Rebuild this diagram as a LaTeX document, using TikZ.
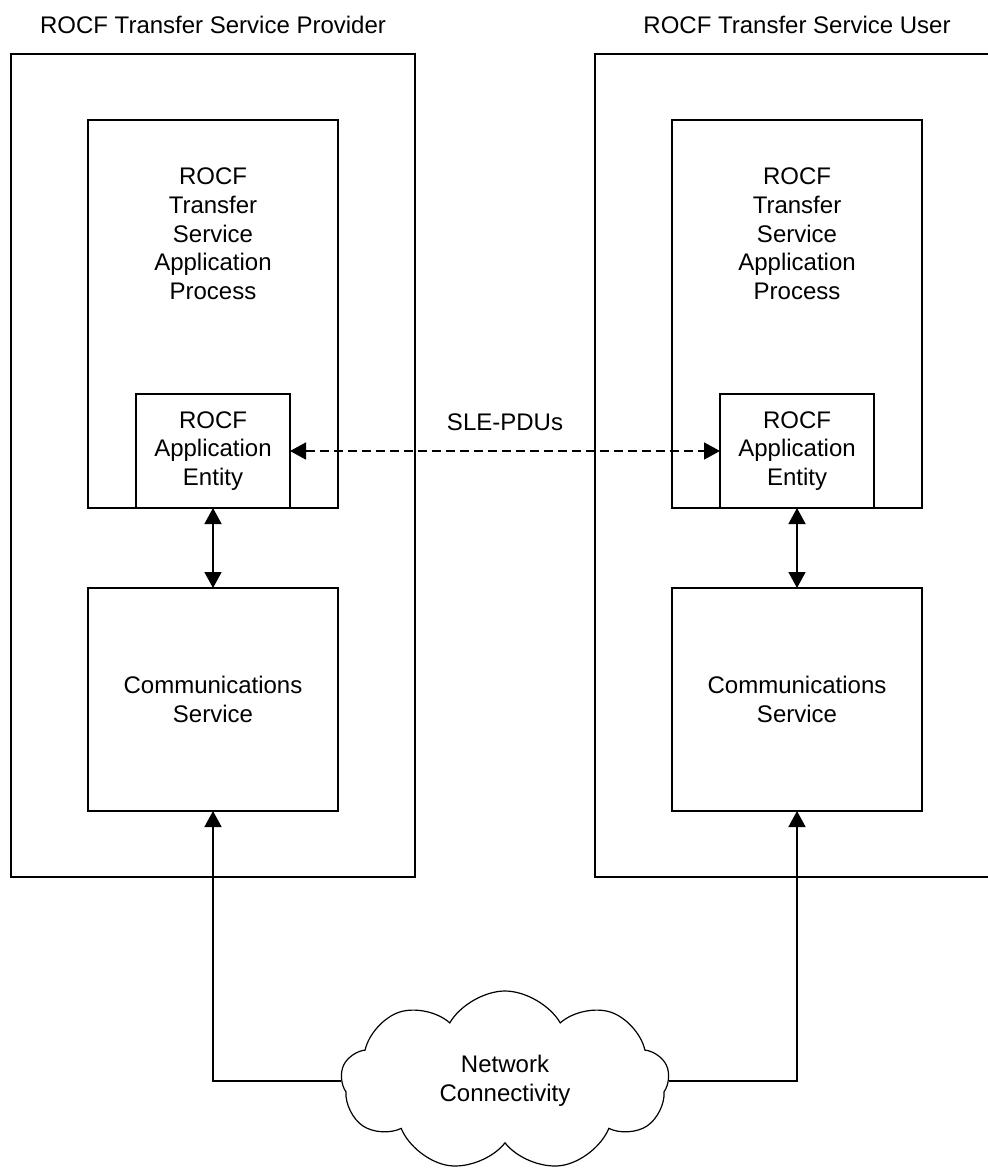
\documentclass[tikz,border=0pt]{standalone}
\usepackage{fontspec}
\setmainfont{Liberation Sans}
\usetikzlibrary{positioning, arrows.meta, shapes.symbols}

\begin{document}
\begin{tikzpicture}[x=0.5pt, y=-0.5pt,
    every node/.style={font=\fontsize{12}{14.4}\selectfont, outer sep=0pt},
    sysbox/.style={draw, line width=1pt, minimum width=202pt, minimum height=411.5pt},
    procbox/.style={draw, line width=1pt, minimum width=125pt, minimum height=194pt},
    aebox/.style={draw, line width=1pt, fill=white, minimum width=77pt, minimum height=57pt, align=center},
    commbox/.style={draw, line width=1pt, minimum width=125pt, minimum height=111.5pt, align=center},
    netcloud/.style={draw, cloud, cloud puffs=9, cloud puff arc=120, aspect=1.8, line width=0.6pt, minimum width=164pt, minimum height=90pt, align=center},
    biarrow/.style={line width=0.8pt, {Triangle[length=8pt,width=8.5pt]}-{Triangle[length=8pt,width=8.5pt]}},
    uparrow/.style={line width=0.8pt, -{Triangle[length=8pt,width=8.5pt]}},
    pduarrow/.style={line width=0.8pt, dash pattern=on 4.5pt off 2.5pt, {Triangle[length=8pt,width=8.5pt]}-{Triangle[length=8pt,width=8.5pt]}},]

    \useasboundingbox (0,0) rectangle (987,1171);

    % provider side
    \node[sysbox] (lsys) at (213,465.5) {};
    \node[above=7pt of lsys.north] (ltitle) {ROCF Transfer Service Provider};
    \node[procbox, below=33pt of lsys.north] (lproc) {};
    \node[below=20.5pt of lproc.north, align=center] (lproctxt) {ROCF\\Transfer\\Service\\Application\\Process};
    \node[aebox, above=0pt of lproc.south] (lae) {ROCF\\Application\\Entity};
    \node[commbox, below=40pt of lproc.south] (lcomm) {Communications\\Service};

    % user side
    \node[sysbox] (rsys) at (797,465.5) {};
    \node[above=7pt of rsys.north] (rtitle) {ROCF Transfer Service User};
    \node[procbox, below=33pt of rsys.north] (rproc) {};
    \node[below=20.5pt of rproc.north, align=center] (rproctxt) {ROCF\\Transfer\\Service\\Application\\Process};
    \node[aebox, above=0pt of rproc.south] (rae) {ROCF\\Application\\Entity};
    \node[commbox, below=40pt of rproc.south] (rcomm) {Communications\\Service};

    \node[netcloud] (net) at (505,1081) {Network\\Connectivity};

    \draw[biarrow] (lae) -- (lcomm);
    \draw[biarrow] (rae) -- (rcomm);
    \draw[pduarrow] (lae) -- node[above=7pt] (pdus) {SLE-PDUs} (rae);

    \draw[uparrow] (net.west) -| (lcomm.south);
    \draw[uparrow] (net.east) -| (rcomm.south);

\end{tikzpicture}
\end{document}
